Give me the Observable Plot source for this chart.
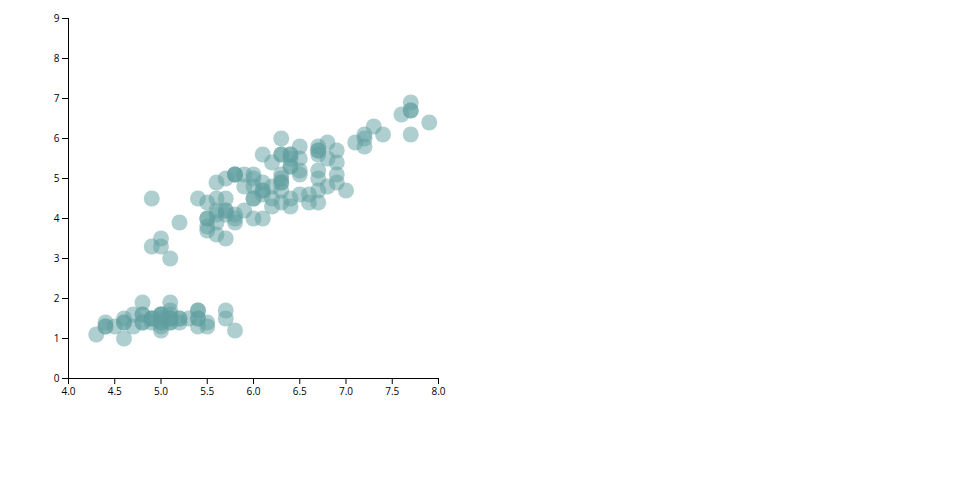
<!DOCTYPE html>
<html><head><meta charset="utf-8">
<script src="https://cdn.jsdelivr.net/npm/d3@7"></script>
<script src="https://cdn.jsdelivr.net/npm/@observablehq/plot@0.6"></script>
<style>body{margin:0;background:#fff} svg{display:block}</style>
</head><body><div id="chart"></div>
<script>
const sepalLength = [
5.1,4.9,4.7,4.6,5.0,5.4,4.6,5.0,4.4,4.9,5.4,4.8,4.8,4.3,5.8,5.7,5.4,5.1,5.7,5.1,5.4,5.1,4.6,5.1,4.8,5.0,5.0,5.2,5.2,4.7,4.8,5.4,5.2,5.5,4.9,5.0,5.5,4.9,4.4,5.1,5.0,4.5,4.4,5.0,5.1,4.8,5.1,4.6,5.3,5.0,
7.0,6.4,6.9,5.5,6.5,5.7,6.3,4.9,6.6,5.2,5.0,5.9,6.0,6.1,5.6,6.7,5.6,5.8,6.2,5.6,5.9,6.1,6.3,6.1,6.4,6.6,6.8,6.7,6.0,5.7,5.5,5.5,5.8,6.0,5.4,6.0,6.7,6.3,5.6,5.5,5.5,6.1,5.8,5.0,5.6,5.7,5.7,6.2,5.1,5.7,
6.3,5.8,7.1,6.3,6.5,7.6,4.9,7.3,6.7,7.2,6.5,6.4,6.8,5.7,5.8,6.4,6.5,7.7,7.7,6.0,6.9,5.6,7.7,6.3,6.7,7.2,6.2,6.1,6.4,7.2,7.4,7.9,6.4,6.3,6.1,7.7,6.3,6.4,6.0,6.9,6.7,6.9,5.8,6.8,6.7,6.7,6.3,6.5,6.2,5.9];
const petalLength = [
1.4,1.4,1.3,1.5,1.4,1.7,1.4,1.5,1.4,1.5,1.5,1.6,1.4,1.1,1.2,1.5,1.3,1.4,1.7,1.5,1.7,1.5,1.0,1.7,1.9,1.6,1.6,1.5,1.4,1.6,1.6,1.5,1.5,1.4,1.5,1.2,1.3,1.5,1.3,1.5,1.3,1.3,1.3,1.6,1.9,1.4,1.6,1.4,1.5,1.4,
4.7,4.5,4.9,4.0,4.6,4.5,4.7,3.3,4.6,3.9,3.5,4.2,4.0,4.7,3.6,4.4,4.5,4.1,4.5,3.9,4.8,4.0,4.9,4.7,4.3,4.4,4.8,5.0,4.5,3.5,3.8,3.7,3.9,5.1,4.5,4.5,4.7,4.4,4.1,4.0,4.4,4.6,4.0,3.3,4.2,4.2,4.2,4.3,3.0,4.1,
6.0,5.1,5.9,5.6,5.8,6.6,4.5,6.3,5.8,6.1,5.1,5.3,5.5,5.0,5.1,5.3,5.5,6.7,6.9,5.0,5.7,4.9,6.7,4.9,5.7,6.0,4.8,4.9,5.6,5.8,6.1,6.4,5.6,5.1,5.6,6.1,5.6,5.5,4.8,5.4,5.6,5.1,5.1,5.9,5.7,5.2,5.0,5.2,5.4,5.1];
const xTicks = [4.0,4.5,5.0,5.5,6.0,6.5,7.0,7.5,8.0];
const yTicks = [0,1,2,3,4,5,6,7,8,9];

const data = sepalLength.map((s, i) => ({sepal: s, petal: petalLength[i]}));

const chart = Plot.plot({
  width: 960, height: 500,
  marginLeft: 68, marginRight: 522, marginTop: 18, marginBottom: 122,
  style: {fontFamily: "'Open Sans', sans-serif", fontSize: "10px", color: "#000", background: "#fff"},
  x: {domain: [4, 8], ticks: xTicks, tickFormat: d3.format(".1f")},
  y: {domain: [0, 9], ticks: yTicks},
  marks: [
    Plot.dot(data, {x: "sepal", y: "petal", r: 8, fill: "#5f9ea0", fillOpacity: 0.5, stroke: "none"}),
    Plot.axisX({ticks: xTicks, tickFormat: d3.format(".1f"), tickSize: 6, tickPadding: 3, label: null}),
    Plot.axisY({ticks: yTicks, tickSize: 6, tickPadding: 3, label: null}),
    Plot.ruleY([0]),
    Plot.ruleX([4])
  ]
});
document.getElementById("chart").append(chart);
</script>
</body></html>
